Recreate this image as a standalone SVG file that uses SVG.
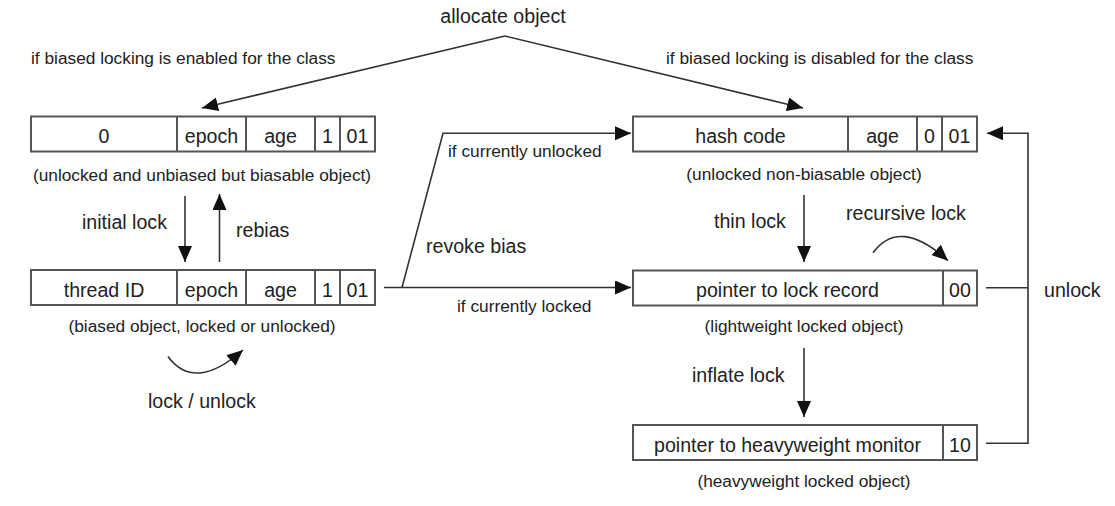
<svg xmlns="http://www.w3.org/2000/svg" width="1115" height="506" viewBox="0 0 1115 506">
  <style>
    text { font-family: "Liberation Sans", Arial, sans-serif; fill: #222; }
    .m { font-size: 19.6px; }
    .s { font-size: 17.3px; }
    .c { text-anchor: middle; }
    .box { fill: #fff; stroke: #555; stroke-width: 2; }
    .div { stroke: #555; stroke-width: 2; }
    .ln { fill: none; stroke: #333; stroke-width: 1.6; }
  </style>
  <defs>
    <marker id="ah" markerUnits="userSpaceOnUse" markerWidth="16" markerHeight="14" refX="16" refY="7" orient="auto">
      <path d="M0,0 L16,7 L0,14 z" fill="#111"/>
    </marker>
  </defs>
  <rect width="1115" height="506" fill="#fff"/>

  <g id="labels">
    <text class="m c" x="503" y="23">allocate object</text>
    <text class="s" x="31" y="64">if biased locking is enabled for the class</text>
    <text class="s" x="666" y="64">if biased locking is disabled for the class</text>
    <text class="s" x="448" y="157">if currently unlocked</text>
    <text class="m" x="426" y="253">revoke bias</text>
    <text class="s" x="457" y="312">if currently locked</text>
    <text class="m" x="82" y="229">initial lock</text>
    <text class="m" x="236" y="237">rebias</text>
    <text class="m" x="148" y="408">lock / unlock</text>
    <text class="m" x="714" y="228">thin lock</text>
    <text class="m" x="846" y="220">recursive lock</text>
    <text class="m" x="692" y="382">inflate lock</text>
    <text class="m" x="1044" y="297">unlock</text>
  </g>

  <g id="unbiased">
    <rect class="box" x="31" y="116.5" width="344" height="35"/>
    <line class="div" x1="177" y1="116.5" x2="177" y2="151.5"/>
    <line class="div" x1="246" y1="116.5" x2="246" y2="151.5"/>
    <line class="div" x1="315" y1="116.5" x2="315" y2="151.5"/>
    <line class="div" x1="340" y1="116.5" x2="340" y2="151.5"/>
    <text class="m c" x="104" y="143">0</text>
    <text class="m c" x="211.5" y="143">epoch</text>
    <text class="m c" x="280.5" y="143">age</text>
    <text class="m c" x="327.5" y="143">1</text>
    <text class="m c" x="357.5" y="143">01</text>
    <text class="s c" x="202" y="181">(unlocked and unbiased but biasable object)</text>
  </g>

  <g id="biased">
    <rect class="box" x="31" y="270" width="344" height="35"/>
    <line class="div" x1="177" y1="270" x2="177" y2="305"/>
    <line class="div" x1="246" y1="270" x2="246" y2="305"/>
    <line class="div" x1="315" y1="270" x2="315" y2="305"/>
    <line class="div" x1="340" y1="270" x2="340" y2="305"/>
    <text class="m c" x="104" y="296.5">thread ID</text>
    <text class="m c" x="211.5" y="296.5">epoch</text>
    <text class="m c" x="280.5" y="296.5">age</text>
    <text class="m c" x="327.5" y="296.5">1</text>
    <text class="m c" x="357.5" y="296.5">01</text>
    <text class="s c" x="202" y="331.5">(biased object, locked or unlocked)</text>
  </g>

  <g id="nonbiasable">
    <rect class="box" x="633" y="116.5" width="344" height="35"/>
    <line class="div" x1="848" y1="116.5" x2="848" y2="151.5"/>
    <line class="div" x1="917" y1="116.5" x2="917" y2="151.5"/>
    <line class="div" x1="942" y1="116.5" x2="942" y2="151.5"/>
    <text class="m c" x="740.5" y="143">hash code</text>
    <text class="m c" x="882.5" y="143">age</text>
    <text class="m c" x="929.5" y="143">0</text>
    <text class="m c" x="959.5" y="143">01</text>
    <text class="s c" x="804" y="180">(unlocked non-biasable object)</text>
  </g>

  <g id="lightweight">
    <rect class="box" x="633" y="270.5" width="344" height="35"/>
    <line class="div" x1="943" y1="270.5" x2="943" y2="305.5"/>
    <text class="m c" x="787.5" y="296.7">pointer to lock record</text>
    <text class="m c" x="960" y="296.7">00</text>
    <text class="s c" x="804" y="331.5">(lightweight locked object)</text>
  </g>

  <g id="heavyweight">
    <rect class="box" x="633" y="425" width="344" height="35"/>
    <line class="div" x1="943" y1="425" x2="943" y2="460"/>
    <text class="m c" x="787.5" y="451.5">pointer to heavyweight monitor</text>
    <text class="m c" x="960" y="451.5">10</text>
    <text class="s c" x="804" y="486.5">(heavyweight locked object)</text>
  </g>

  <g id="connectors">
    <path class="ln" d="M505,36 L202,108" marker-end="url(#ah)"/>
    <path class="ln" d="M505,36 L803,108" marker-end="url(#ah)"/>
    <path class="ln" d="M185,196 L185,262" marker-end="url(#ah)"/>
    <path class="ln" d="M219.5,262 L219.5,194" marker-end="url(#ah)"/>
    <path class="ln" d="M168,356.5 Q194.5,392.6 243,350" marker-end="url(#ah)"/>
    <path class="ln" d="M384,287.5 L631,287.5" marker-end="url(#ah)"/>
    <path class="ln" d="M402,287.5 L443,133.3 L631,133.3" marker-end="url(#ah)"/>
    <path class="ln" d="M804,195 L804,262" marker-end="url(#ah)"/>
    <path class="ln" d="M873,252.7 Q899.5,216.6 948,260.7" marker-end="url(#ah)"/>
    <path class="ln" d="M804,348 L804,417" marker-end="url(#ah)"/>
    <path class="ln" d="M986,443.3 L1028,443.3 L1028,133.3 L987,133.3" marker-end="url(#ah)"/>
    <path class="ln" d="M986,287.7 L1028,287.7"/>
  </g>
</svg>
